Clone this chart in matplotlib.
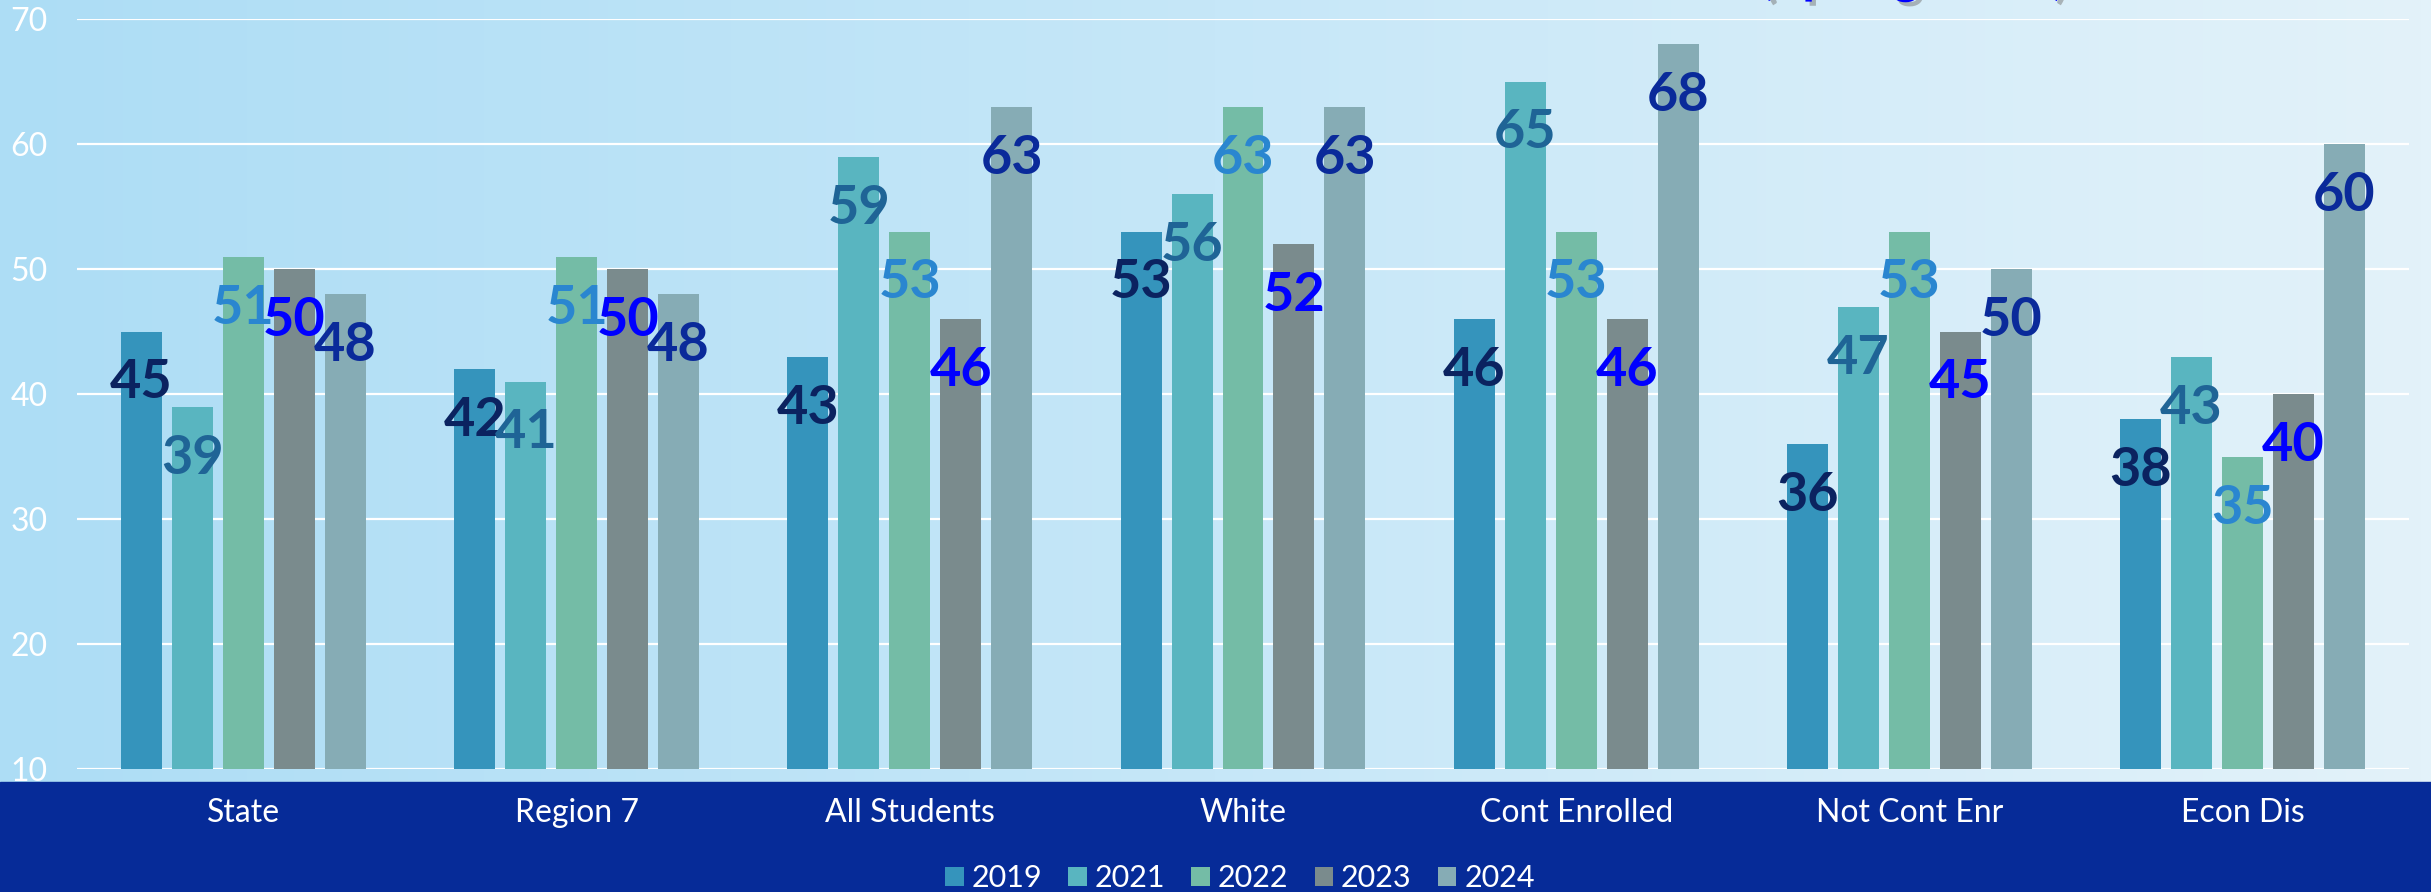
import numpy as np
import matplotlib
matplotlib.use("Agg")
import matplotlib.pyplot as plt
from matplotlib.patches import Rectangle, Patch
from matplotlib import patheffects as pe
from matplotlib.colors import LinearSegmentedColormap

plt.rcParams['font.family'] = ['Lato', 'DejaVu Sans']

categories = ["State", "Region 7", "All Students", "White", "Cont Enrolled", "Not Cont Enr", "Econ Dis"]
years = ["2019", "2021", "2022", "2023", "2024"]
v2019 = [45, 42, 43, 53, 46, 36, 38]
v2021 = [39, 41, 59, 56, 65, 47, 43]
v2022 = [51, 51, 53, 63, 53, 53, 35]
v2023 = [50, 50, 46, 52, 46, 45, 40]
v2024 = [48, 48, 63, 63, 68, 50, 60]
series = [v2019, v2021, v2022, v2023, v2024]
yticks = [10, 20, 30, 40, 50, 60, 70]
title_text = "(Spring 2024)"

bar_colors = ["#3594BC", "#59B5C0", "#74BCA6", "#7A8B8D", "#86ACB5"]
label_colors = ["#0B2360", "#1F6496", "#2A86D0", "#0000FF", "#0A2A9A"]

W, H = 2431, 892
fig = plt.figure(figsize=(W / 100, H / 100), dpi=100)

# background gradient
bg = fig.add_axes([0, 0, 1, 1])
cmap = LinearSegmentedColormap.from_list("bg", ["#ADDDF5", "#C6E7F8", "#E3F2FA"])
grad = np.linspace(0, 1, 512).reshape(1, -1)
bg.imshow(grad, aspect='auto', cmap=cmap, extent=[0, 1, 0, 1], zorder=0)
bg.add_patch(Rectangle((0, 0), 1, 110 / H, color="#062B98", zorder=1))
bg.set_xlim(0, 1)
bg.set_ylim(0, 1)
bg.axis('off')

left, right = 77, 2409
top, bottom = 19, 769
ax = fig.add_axes([left / W, 1 - bottom / H, (right - left) / W, (bottom - top) / H])
ax.patch.set_alpha(0)
ax.set_xlim(-0.5, len(categories) - 0.5)
ax.set_ylim(10, 70)
ax.set_yticks(yticks)
ax.yaxis.grid(True, color='white', linewidth=1.6)
ax.set_axisbelow(True)
for s in ax.spines.values():
    s.set_visible(False)
ax.tick_params(axis='both', length=0)
ax.tick_params(axis='y', pad=21, labelsize=23, labelcolor='white')
ax.set_xticks(np.arange(len(categories)))
ax.set_xticklabels(categories, fontsize=23, color='white')
ax.tick_params(axis='x', pad=21)

x = np.arange(len(categories))
pitch = 0.153
bw = 0.123
for j, (vals, c, lc) in enumerate(zip(series, bar_colors, label_colors)):
    xs = x + (j - 2) * pitch
    ax.bar(xs, vals, width=bw, color=c, zorder=2, label=years[j])
    for xi, v in zip(xs, vals):
        ax.annotate(str(v), (xi, v), xytext=(0, -67), textcoords='offset pixels',
                    ha='center', va='baseline', fontsize=39, fontweight='bold',
                    color=lc, zorder=5)

handles = [Patch(facecolor=c, edgecolor='none') for c in bar_colors]
fig.legend(handles, years, loc='center', bbox_to_anchor=(1240 / W, 1 - 878 / H), ncol=5,
           frameon=False, fontsize=22, labelcolor='white', handlelength=0.6,
           handleheight=0.57, handletextpad=0.27, columnspacing=0.85)

fig.text(1760 / W, 1 + 7 / H, title_text, ha='left', va='baseline', fontsize=37,
         fontweight='bold', color='#0000FF',
         path_effects=[pe.withSimplePatchShadow(offset=(3, -3), shadow_rgbFace='#777777', alpha=0.5)])

fig.savefig("out.png", dpi=100)
